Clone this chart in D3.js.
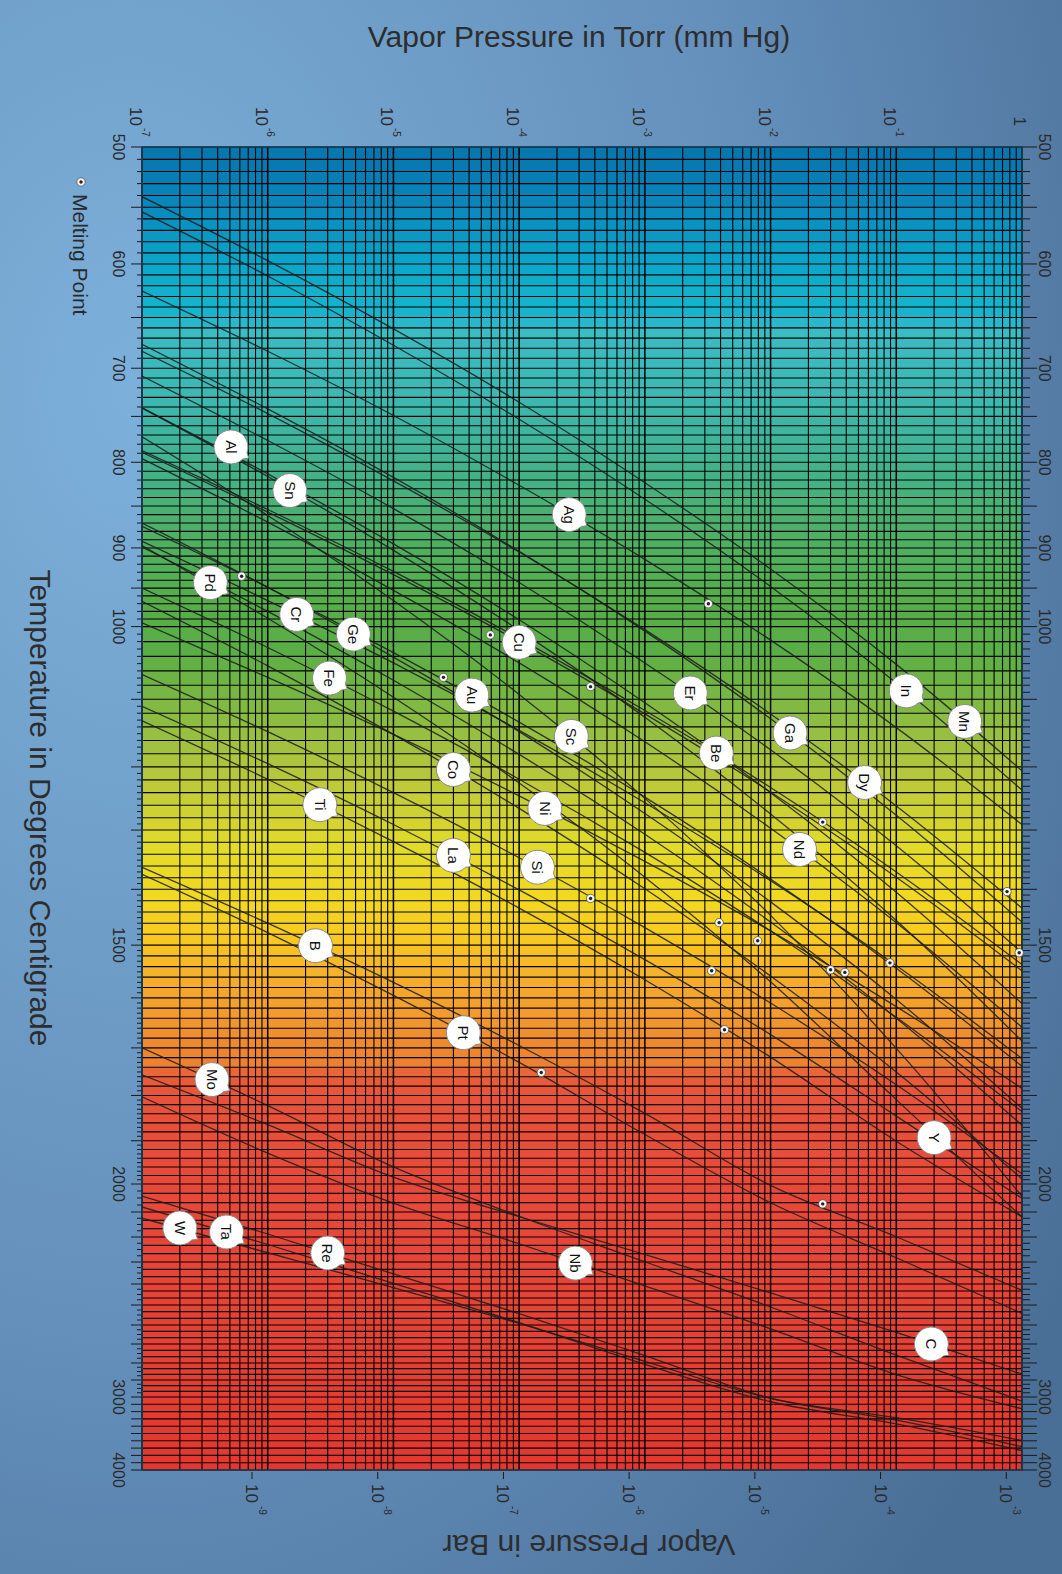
<!DOCTYPE html>
<html>
<head>
<meta charset="utf-8">
<script src="https://cdn.jsdelivr.net/npm/d3@7"></script>
<style>
  body { margin: 0; }
  svg { display: block; font-family: Arial, "Liberation Sans", sans-serif; }
</style>
</head>
<body>
<div id="chart"></div>
<script>
// Pressure decades (Torr) where each curve was read
const pressures = [1e-7, 1e-6, 1e-5, 1e-4, 1e-3, 1e-2, 1e-1, 1];

// Temperature (deg C) of each element at those pressures
const T_Mn = [541, 597, 661, 735, 823, 926, 1051, 1206];
const T_In = [554, 611, 677, 753, 842, 948, 1077, 1236];
const T_Ag = [625, 683, 749, 826, 914, 1018, 1141, 1291];
const T_Al = [741, 813, 895, 991, 1105, 1240, 1405, 1611];
const T_Sn = [741, 816, 903, 1005, 1126, 1274, 1455, 1686];
const T_Pd = [899, 980, 1073, 1181, 1307, 1458, 1640, 1865];
const T_Cr = [892, 966, 1049, 1145, 1256, 1385, 1538, 1722];
const T_Ge = [870, 949, 1041, 1147, 1273, 1422, 1603, 1828];
const T_Fe = [950, 1028, 1117, 1219, 1337, 1474, 1638, 1835];
const T_Cu = [789, 857, 933, 1020, 1121, 1239, 1379, 1548];
const T_Au = [874, 949, 1035, 1133, 1247, 1382, 1543, 1738];
const T_Er = [708, 776, 853, 943, 1049, 1174, 1326, 1514];
const T_Ga = [676, 742, 817, 904, 1006, 1128, 1276, 1458];
const T_Dy = [683, 747, 821, 905, 1004, 1121, 1261, 1433];
const T_Be = [787, 854, 929, 1016, 1116, 1232, 1370, 1536];
const T_Sc = [772, 861, 966, 1093, 1249, 1446, 1701, 2044];
const T_Co = [967, 1053, 1151, 1265, 1399, 1558, 1750, 1988];
const T_Ti = [1131, 1219, 1319, 1433, 1565, 1719, 1901, 2119];
const T_Ni = [995, 1069, 1151, 1245, 1352, 1474, 1617, 1785];
const T_Nd = [796, 869, 953, 1049, 1162, 1297, 1459, 1658];
const T_La = [1110, 1195, 1291, 1401, 1527, 1673, 1845, 2051];
const T_Si = [1065, 1147, 1240, 1346, 1468, 1610, 1777, 1976];
const T_B  = [1362, 1460, 1570, 1695, 1839, 2005, 2199, 2430];
const T_Pt = [1374, 1477, 1595, 1730, 1886, 2067, 2283, 2542];
const T_Mo = [1700, 1822, 1960, 2117, 2299, 2510, 2759, 3057];
const T_Y  = [897, 989, 1097, 1225, 1379, 1569, 1809, 2120];
const T_Nb = [1803, 1928, 2068, 2227, 2409, 2620, 2868, 3161];
const T_W  = [2125, 2263, 2417, 2592, 2791, 3019, 3284, 3596];
const T_Ta = [2082, 2230, 2397, 2588, 2808, 3065, 3369, 3734];
const T_Re = [2043, 2188, 2354, 2543, 2761, 3016, 3318, 3680];
const T_C  = [1756, 1864, 1984, 2119, 2270, 2442, 2639, 2866];

const elements = ["Mn", "In", "Ag", "Al", "Sn", "Pd", "Cr", "Ge", "Fe", "Cu", "Au", "Er", "Ga", "Dy", "Be", "Sc",
  "Co", "Ti", "Ni", "Nd", "La", "Si", "B", "Pt", "Mo", "Y", "Nb", "W", "Ta", "Re", "C"];
const curves = [T_Mn, T_In, T_Ag, T_Al, T_Sn, T_Pd, T_Cr, T_Ge, T_Fe, T_Cu, T_Au, T_Er, T_Ga, T_Dy, T_Be, T_Sc,
  T_Co, T_Ti, T_Ni, T_Nd, T_La, T_Si, T_B, T_Pt, T_Mo, T_Y, T_Nb, T_W, T_Ta, T_Re, T_C];

// Where each element's tag sits on its curve
const labelP = [0.35, 0.12, 2.5e-4, 5.1e-7, 1.5e-6, 3.5e-7, 1.7e-6, 4.8e-6, 3.1e-6, 1.0e-4, 4.2e-5, 2.3e-3, 0.0143, 0.056, 3.7e-3, 2.6e-4,
  3.0e-5, 2.6e-6, 1.6e-4, 0.017, 3.0e-5, 1.4e-4, 2.4e-6, 3.6e-5, 3.6e-7, 0.20, 2.8e-4, 2.0e-7, 4.7e-7, 3.0e-6, 0.19];
const labelT = [1132, 1088, 860, 783, 832, 943, 984, 1010, 1070, 1021, 1094, 1091, 1149, 1224, 1179, 1154,
  1204, 1259, 1265, 1332, 1342, 1362, 1501, 1669, 1766, 1893, 2305, 2164, 2180, 2264, 2700];

// Melting points (deg C, Torr)
const meltT = [935, 1011, 1069, 1082, 970, 1287, 1404, 1416, 1459, 1492, 1514, 1548, 1546, 1551, 1533, 1663, 1751, 2071];
const meltP = [6.2e-7, 5.9e-5, 2.5e-5, 3.7e-4, 3.2e-3, 0.026, 0.76, 3.7e-4, 3.9e-3, 7.9e-3, 0.95, 3.4e-3, 0.030, 0.039, 0.089, 4.3e-3, 1.5e-4, 0.026];

// Axis ticks
const torrExp = [-7, -6, -5, -4, -3, -2, -1, 0];
const barExp = [-9, -8, -7, -6, -5, -4, -3];
const tempLabels = [500, 600, 700, 800, 900, 1000, 1500, 2000, 3000, 4000];
const highTemps = [2000, 2100, 2200, 2300, 2400, 2500, 2600, 2700, 2800, 2900, 3000, 4000];

// Background band colours by temperature
const bandStops = [500, 544, 597, 634, 650, 662, 733, 786, 867, 966, 1032, 1101, 1160, 1221, 1334, 1419, 1491, 1557, 1625, 1685, 1742, 1752, 1800, 2000, 3000, 4000];
const bandColors = ["#0575ae", "#0a85bb", "#0ba5c8", "#14b3cc", "#19b5cc", "#3bbcc4", "#3db8b0", "#40b396", "#4caf6c", "#56ad4a", "#5aae46", "#7cb844", "#9dc040",
  "#bdc83a", "#e4dc28", "#f2d820", "#f9c81e", "#f5b02a", "#f39c2c", "#ee8a30", "#ed7e32", "#e8603a", "#e8533a", "#e8483a", "#e63c32", "#e5372f"];

const TORR_TO_BAR = 1.33322e-3;

const width = 1062;
const height = 1574;
const plot = { left: 142, right: 1022, top: 147, bottom: 1470 };

const svg = d3.select("#chart")
  .append("svg")
  .attr("width", width)
  .attr("height", height);

const defs = svg.append("defs");
const bg = defs.append("radialGradient")
  .attr("id", "bg")
  .attr("cx", "12%").attr("cy", "25%").attr("r", "105%");
bg.append("stop").attr("offset", "0%").attr("stop-color", "#7cb0da");
bg.append("stop").attr("offset", "55%").attr("stop-color", "#6591bc");
bg.append("stop").attr("offset", "100%").attr("stop-color", "#4a6f97");

defs.append("clipPath").attr("id", "plotClip")
  .append("rect")
  .attr("x", plot.left).attr("y", plot.top)
  .attr("width", plot.right - plot.left).attr("height", plot.bottom - plot.top);

svg.append("rect").attr("width", width).attr("height", height).attr("fill", "url(#bg)");

// Scales
const xScale = d3.scaleLog().domain([1e-7, 1]).range([plot.left, plot.right]);
const barScale = d3.scaleLog().domain([1e-7 * TORR_TO_BAR, TORR_TO_BAR]).range([plot.left, plot.right]);

// temperature axis: log(Kelvin) up to 2000 C, compressed beyond
const yLow = d3.scaleLog().domain([773.15, 2273.15]).range([plot.top, 1184]);
const yHigh = d3.scaleLinear()
  .domain(highTemps)
  .range([1184, 1212, 1237, 1262, 1284, 1305, 1325, 1344, 1363, 1380, 1397, plot.bottom]);
const yScale = t => (t <= 2000 ? yLow(t + 273.15) : yHigh(t));

const bandColor = d3.scaleLinear().domain(bandStops).range(bandColors);

// grid temperatures
const gridT = d3.range(500, 1000, 10)
  .concat(d3.range(1000, 2000, 20))
  .concat(d3.range(2000, 3000, 100 / 3))
  .concat(d3.range(3000, 4001, 100));

// Colored bands
const plotG = svg.append("g");
plotG.selectAll("rect.band")
  .data(d3.pairs(gridT))
  .join("rect")
  .attr("x", plot.left)
  .attr("width", plot.right - plot.left)
  .attr("y", d => yScale(d[0]))
  .attr("height", d => yScale(d[1]) - yScale(d[0]) + 0.5)
  .attr("fill", d => bandColor((d[0] + d[1]) / 2));

// Horizontal grid
plotG.selectAll("line.h")
  .data(gridT)
  .join("line")
  .attr("x1", plot.left).attr("x2", plot.right)
  .attr("y1", d => yScale(d)).attr("y2", d => yScale(d))
  .attr("stroke", "#000").attr("stroke-width", 1.1);

// Vertical log grid
const vGrid = [];
for (let e = -7; e < 0; e++) {
  for (let m = 1; m <= 9; m++) vGrid.push({ v: m * Math.pow(10, e), major: m === 1 });
}
vGrid.push({ v: 1, major: true });
plotG.selectAll("line.v")
  .data(vGrid)
  .join("line")
  .attr("x1", d => xScale(d.v)).attr("x2", d => xScale(d.v))
  .attr("y1", plot.top).attr("y2", plot.bottom)
  .attr("stroke", "#000")
  .attr("stroke-width", d => (d.major ? 1.5 : 1.1));

// Temperature ticks on both sides
const tickT = d3.range(500, 2000, 10)
  .concat(d3.range(2000, 3000, 25))
  .concat(d3.range(3000, 4001, 100));
const isLong = t => (t <= 1000 ? t % 50 === 0 : t % 100 === 0);
const ticks = svg.append("g").attr("stroke", "#1a1a1a").attr("stroke-width", 1);
ticks.selectAll("line.l")
  .data(tickT)
  .join("line")
  .attr("x1", d => plot.left - (isLong(d) ? 11 : 5)).attr("x2", plot.left)
  .attr("y1", d => yScale(d)).attr("y2", d => yScale(d));
ticks.selectAll("line.r")
  .data(tickT)
  .join("line")
  .attr("x1", plot.right).attr("x2", d => plot.right + (isLong(d) ? 15 : 8))
  .attr("y1", d => yScale(d)).attr("y2", d => yScale(d));

// Temperature labels (rotated)
[119, 1045].forEach(cx => {
  svg.append("g").selectAll("text")
    .data(tempLabels)
    .join("text")
    .attr("transform", d => `translate(${cx},${yScale(d)}) rotate(90)`)
    .attr("text-anchor", "middle")
    .attr("dy", "0.35em")
    .attr("font-size", 16)
    .attr("fill", "#2a2a2a")
    .text(d => d);
});

// Top axis: Torr
const topG = svg.append("g").attr("fill", "#2a2a2a");
torrExp.forEach(e => {
  const x = xScale(Math.pow(10, e));
  if (e === 0) {
    topG.append("text")
      .attr("transform", `translate(${x - 2},126) rotate(90)`)
      .attr("text-anchor", "end").attr("dy", "0.35em")
      .attr("font-size", 17).text("1");
    return;
  }
  topG.append("text")
    .attr("transform", `translate(${x - 6},126) rotate(90)`)
    .attr("text-anchor", "end").attr("dy", "0.35em")
    .attr("font-size", 17).text("10");
  topG.append("text")
    .attr("transform", `translate(${x + 3},128) rotate(90)`)
    .attr("text-anchor", "start").attr("dy", "0.35em")
    .attr("font-size", 10).text(String(e));
});

// Bottom axis: Bar
const botG = svg.append("g").attr("fill", "#2a2a2a");
barExp.forEach(e => {
  const x = barScale(Math.pow(10, e));
  botG.append("line")
    .attr("x1", x).attr("x2", x).attr("y1", plot.bottom + 2).attr("y2", plot.bottom + 9)
    .attr("stroke", "#1a1a1a").attr("stroke-width", 1);
  botG.append("text")
    .attr("transform", `translate(${x},1484) rotate(90)`)
    .attr("text-anchor", "start").attr("dy", "0.35em")
    .attr("font-size", 17).text("10");
  botG.append("text")
    .attr("transform", `translate(${x + 10},1506) rotate(90)`)
    .attr("text-anchor", "start").attr("dy", "0.35em")
    .attr("font-size", 10).text(String(e));
});

// Plot border
svg.append("rect")
  .attr("x", plot.left).attr("y", plot.top)
  .attr("width", plot.right - plot.left).attr("height", plot.bottom - plot.top)
  .attr("fill", "none").attr("stroke", "#1d3f55").attr("stroke-width", 1.5);

// Vapor pressure curves
const line = d3.line()
  .x(d => xScale(d[0]))
  .y(d => yScale(d[1]))
  .curve(d3.curveMonotoneX);

svg.append("g")
  .attr("clip-path", "url(#plotClip)")
  .selectAll("path")
  .data(curves)
  .join("path")
  .attr("d", temps => line(temps.map((t, i) => [pressures[i], t])))
  .attr("fill", "none")
  .attr("stroke", "#1c1c1c")
  .attr("stroke-opacity", 0.85)
  .attr("stroke-width", 1.3);

// Melting points
const meltG = svg.append("g");
function meltMarker(g, x, y) {
  g.append("circle").attr("cx", x).attr("cy", y).attr("r", 4.2)
    .attr("fill", "#f4f4f4").attr("stroke", "#555").attr("stroke-width", 0.8);
  g.append("circle").attr("cx", x).attr("cy", y).attr("r", 1.7).attr("fill", "#222");
}
meltT.forEach((t, i) => meltMarker(meltG, xScale(meltP[i]), yScale(t)));

// Element tags: round bubble with a small tail to the lower right
const r = 17;
const a1 = 20 * Math.PI / 180, a2 = 45 * Math.PI / 180, aTip = 32 * Math.PI / 180;
const bubblePath = `M${r * Math.cos(a2)},${r * Math.sin(a2)} A${r},${r} 0 1,1 ${r * Math.cos(a1)},${r * Math.sin(a1)} ` +
  `L${(r + 4) * Math.cos(aTip)},${(r + 4) * Math.sin(aTip)} Z`;
const tagG = svg.append("g")
  .selectAll("g")
  .data(elements)
  .join("g")
  .attr("transform", (d, i) => `translate(${xScale(labelP[i])},${yScale(labelT[i])})`);
tagG.append("path")
  .attr("d", bubblePath)
  .attr("fill", "#fff")
  .attr("stroke", "#8a8a8a")
  .attr("stroke-width", 1);
tagG.append("text")
  .attr("transform", "rotate(90)")
  .attr("text-anchor", "middle")
  .attr("dy", "0.35em")
  .attr("font-size", 15)
  .attr("fill", "#111")
  .text(d => d);

// Legend
meltMarker(svg, 81, 182);
svg.append("text")
  .attr("transform", "translate(80,194) rotate(90)")
  .attr("dy", "0.35em")
  .attr("font-size", 21)
  .attr("fill", "#2a2a2a")
  .text("Melting Point");

// Titles
svg.append("text")
  .attr("x", 579).attr("y", 47)
  .attr("text-anchor", "middle")
  .attr("font-size", 30)
  .attr("fill", "#2d2d2d")
  .text("Vapor Pressure in Torr (mm Hg)");

svg.append("text")
  .attr("transform", "translate(589,1535) rotate(180)")
  .attr("text-anchor", "middle")
  .attr("font-size", 30)
  .attr("fill", "#2d2d2d")
  .text("Vapor Pressure in Bar");

svg.append("text")
  .attr("transform", "translate(30,808) rotate(90)")
  .attr("text-anchor", "middle")
  .attr("font-size", 30)
  .attr("fill", "#2d2d2d")
  .text("Temperature in Degrees Centigrade");
</script>
</body>
</html>
